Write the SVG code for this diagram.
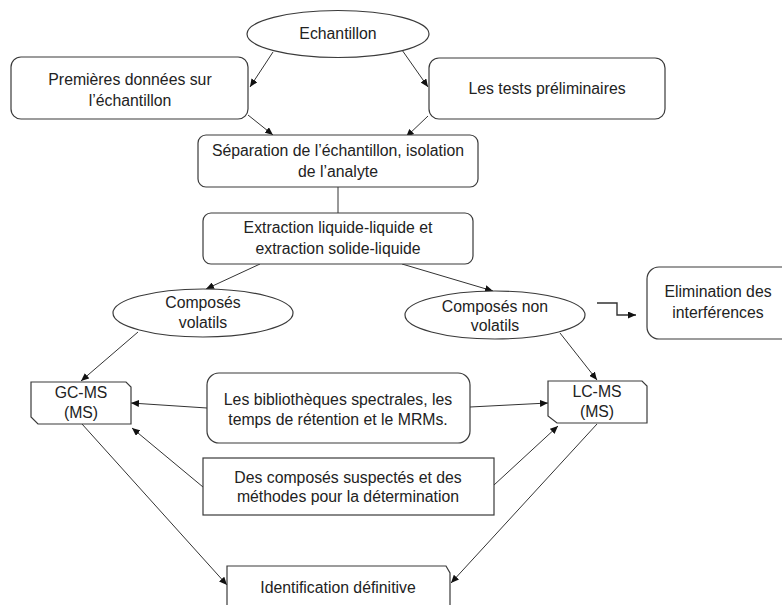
<svg xmlns="http://www.w3.org/2000/svg" width="782" height="605" viewBox="0 0 782 605">
<style>
  .shape { fill: #ffffff; stroke: #3a3a3a; stroke-width: 1.2; }
  .lbl { font-family: "Liberation Sans", Arial, sans-serif; font-size: 15.8px; fill: #222222; text-anchor: middle; }
  .conn { fill: none; stroke: #333333; stroke-width: 1; marker-end: url(#arr); }
  .plain { fill: none; stroke: #333333; stroke-width: 1; }
</style>
<defs>
  <marker id="arr" markerUnits="userSpaceOnUse" markerWidth="9" markerHeight="7" refX="8" refY="3.5" orient="auto">
    <path d="M0,0 L8,3.5 L0,7 Z" fill="#111111"/>
  </marker>
</defs>
<rect width="782" height="605" fill="#ffffff"/>

<g id="connectors">
  <line class="conn" x1="273" y1="52" x2="250" y2="87"/>
  <line class="conn" x1="402" y1="50" x2="428" y2="87"/>
  <line class="conn" x1="248" y1="115" x2="273" y2="135"/>
  <line class="conn" x1="428" y1="116" x2="406" y2="137"/>
  <line class="plain" x1="338" y1="187" x2="338" y2="213"/>
  <line class="conn" x1="260" y1="264" x2="206" y2="289"/>
  <line class="conn" x1="402" y1="264" x2="493" y2="291"/>
  <line class="conn" x1="138" y1="332" x2="81" y2="381"/>
  <line class="conn" x1="560" y1="333" x2="597" y2="380"/>
  <line class="conn" x1="207" y1="408" x2="131" y2="403"/>
  <line class="conn" x1="470" y1="407" x2="548" y2="403"/>
  <line class="conn" x1="203" y1="487" x2="132" y2="428"/>
  <line class="conn" x1="494" y1="485" x2="558" y2="426"/>
  <line class="conn" x1="82" y1="424" x2="227" y2="585"/>
  <line class="conn" x1="597" y1="424" x2="451" y2="583"/>
  <polyline class="conn" style="stroke-width:1.4" points="597,303 617,303 617,315 636,315"/>
</g>

<g id="echantillon">
  <ellipse class="shape" cx="338" cy="34" rx="91" ry="23.5"/>
  <text class="lbl" x="338" y="39">Echantillon</text>
</g>

<g id="premieres">
  <rect class="shape" x="11" y="57" width="237" height="62" rx="10"/>
  <text class="lbl" x="130" y="85">Premières données sur</text>
  <text class="lbl" x="130" y="106">l’échantillon</text>
</g>

<g id="tests">
  <rect class="shape" x="429" y="58" width="236" height="61" rx="10"/>
  <text class="lbl" x="547" y="94">Les tests préliminaires</text>
</g>

<g id="separation">
  <rect class="shape" x="198" y="135" width="280" height="52" rx="8"/>
  <text class="lbl" x="338" y="156">Séparation de l’échantillon, isolation</text>
  <text class="lbl" x="338" y="177">de l’analyte</text>
</g>

<g id="extraction">
  <rect class="shape" x="203" y="213" width="270" height="51" rx="8"/>
  <text class="lbl" x="338" y="233">Extraction liquide-liquide et</text>
  <text class="lbl" x="338" y="254">extraction solide-liquide</text>
</g>

<g id="volatils">
  <ellipse class="shape" cx="203" cy="313" rx="90" ry="24"/>
  <text class="lbl" x="203" y="308">Composés</text>
  <text class="lbl" x="203" y="328">volatils</text>
</g>

<g id="nonvolatils">
  <ellipse class="shape" cx="495" cy="315" rx="90" ry="24"/>
  <text class="lbl" x="495" y="312">Composés non</text>
  <text class="lbl" x="495" y="331">volatils</text>
</g>

<g id="elimination">
  <rect class="shape" x="647" y="267" width="150" height="72" rx="12"/>
  <text class="lbl" x="718" y="297">Elimination des</text>
  <text class="lbl" x="718" y="318">interférences</text>
</g>

<g id="gcms">
  <path class="shape" d="M31,382 H126 L131,387 V424 H38 L31,417 Z"/>
  <text class="lbl" x="81" y="398">GC-MS</text>
  <text class="lbl" x="81" y="418">(MS)</text>
</g>

<g id="lcms">
  <path class="shape" d="M548,381 H642 L647,386 V423 H557 L548,416 Z"/>
  <text class="lbl" x="597" y="397">LC-MS</text>
  <text class="lbl" x="597" y="417">(MS)</text>
</g>

<g id="bibliotheques">
  <rect class="shape" x="207" y="373" width="263" height="70" rx="12"/>
  <text class="lbl" x="338" y="405">Les bibliothèques spectrales, les</text>
  <text class="lbl" x="338" y="425">temps de rétention et le MRMs.</text>
</g>

<g id="suspectes">
  <rect class="shape" x="203" y="458" width="291" height="57"/>
  <text class="lbl" x="348" y="483">Des composés suspectés et des</text>
  <text class="lbl" x="348" y="502">méthodes pour la détermination</text>
</g>

<g id="identification">
  <path class="shape" d="M227,566 H446 L450,573 V612 H227 Z"/>
  <text class="lbl" x="338" y="593">Identification définitive</text>
</g>
</svg>
